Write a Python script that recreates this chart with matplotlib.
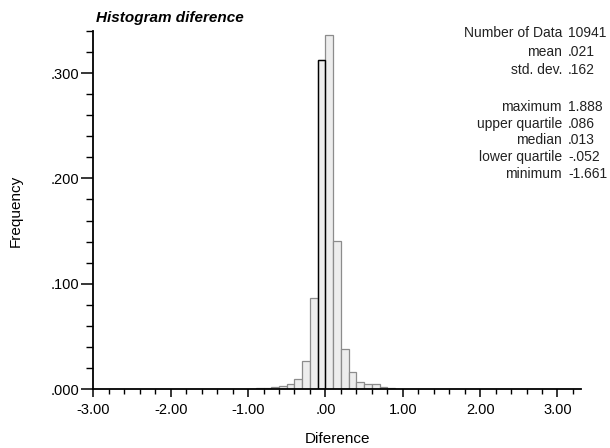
import matplotlib
matplotlib.use("Agg")
import matplotlib.pyplot as plt
from matplotlib.ticker import FixedLocator, MultipleLocator, FuncFormatter

plt.rcParams['font.family'] = ['Liberation Sans', 'DejaVu Sans']

# Histogram bins (left edges, width 0.1) and relative frequencies
bin_left = [-1.0, -0.9, -0.8, -0.7, -0.6, -0.5, -0.4, -0.3, -0.2, -0.1,
            0.0, 0.1, 0.2, 0.3, 0.4, 0.5, 0.6, 0.7, 0.8, 0.9]
freq = [0.0003, 0.0006, 0.0010, 0.0016, 0.0025, 0.0052, 0.0093, 0.027, 0.086, 0.312,
        0.336, 0.141, 0.038, 0.0164, 0.0064, 0.0045, 0.0045, 0.0016, 0.0008, 0.0004]
bin_width = 0.1

stat_labels = ["Number of Data", "mean", "std. dev.", "maximum", "upper quartile",
               "median", "lower quartile", "minimum"]
stat_values = ["10941", ".021", ".162", "1.888", ".086", ".013", "-.052", "-1.661"]
stat_rows_y = [33, 52, 70, 107, 124, 140, 157, 174]

x_ticks = [-3, -2, -1, 0, 1, 2, 3]
y_ticks = [0.0, 0.1, 0.2, 0.3]

W, H = 610, 448
fig = plt.figure(figsize=(W / 100, H / 100), dpi=100)
ax = fig.add_axes([93.3 / W, 1 - 389 / H, (580.7 - 93.3) / W, (389 - 31) / H])

ax.bar(bin_left, freq, width=bin_width, align='edge', color='#ededed',
       edgecolor='#8c8c8c', linewidth=0.9, zorder=2)
# highlighted bar outline (black)
i0 = bin_left.index(-0.1)
ax.bar([bin_left[i0]], [freq[i0]], width=bin_width, align='edge', color='none',
       edgecolor='black', linewidth=1.0, zorder=3)

ax.set_xlim(-3, 3.3)
ax.set_ylim(0, 0.34)

for s in ['top', 'right']:
    ax.spines[s].set_visible(False)
ax.spines['left'].set_linewidth(1.3)
ax.spines['bottom'].set_linewidth(1.3)

ax.xaxis.set_major_locator(FixedLocator(x_ticks))
ax.xaxis.set_minor_locator(MultipleLocator(0.2))
ax.yaxis.set_major_locator(FixedLocator(y_ticks))
ax.yaxis.set_minor_locator(MultipleLocator(0.02))


def fmt_x(v, pos):
    s = "%.2f" % v
    if abs(v) < 1e-9:
        return ".00"
    if s.startswith("0."):
        s = s[1:]
    return s


def fmt_y(v, pos):
    s = "%.3f" % v
    if s.startswith("0."):
        s = s[1:]
    return s


ax.xaxis.set_major_formatter(FuncFormatter(fmt_x))
ax.yaxis.set_major_formatter(FuncFormatter(fmt_y))

ax.tick_params(axis='x', which='major', direction='out', length=6, width=1.1,
               labelsize=10.5, pad=4)
ax.tick_params(axis='x', which='minor', direction='out', length=3.5, width=1.0)
ax.tick_params(axis='y', which='major', direction='out', length=9, width=1.1,
               labelsize=10.5, pad=1)
ax.tick_params(axis='y', which='minor', direction='out', length=5, width=1.0)

fig.text(16 / W, 1 - 211 / H, "Frequency", rotation=90, ha='center', va='center',
         fontsize=11)
fig.text(337 / W, 1 - 439 / H, "Diference", ha='center', va='center', fontsize=11)
fig.text(96 / W, 1 - 18 / H, "Histogram diference", ha='left', va='center',
         fontsize=11, fontweight='bold', fontstyle='italic')

for lab, val, yy in zip(stat_labels, stat_values, stat_rows_y):
    fig.text(562 / W, 1 - yy / H, lab, ha='right', va='center', fontsize=10,
             color='#222222')
    fig.text(568 / W, 1 - yy / H, val, ha='left', va='center', fontsize=10,
             color='#222222')

fig.savefig("out.png", dpi=100)
